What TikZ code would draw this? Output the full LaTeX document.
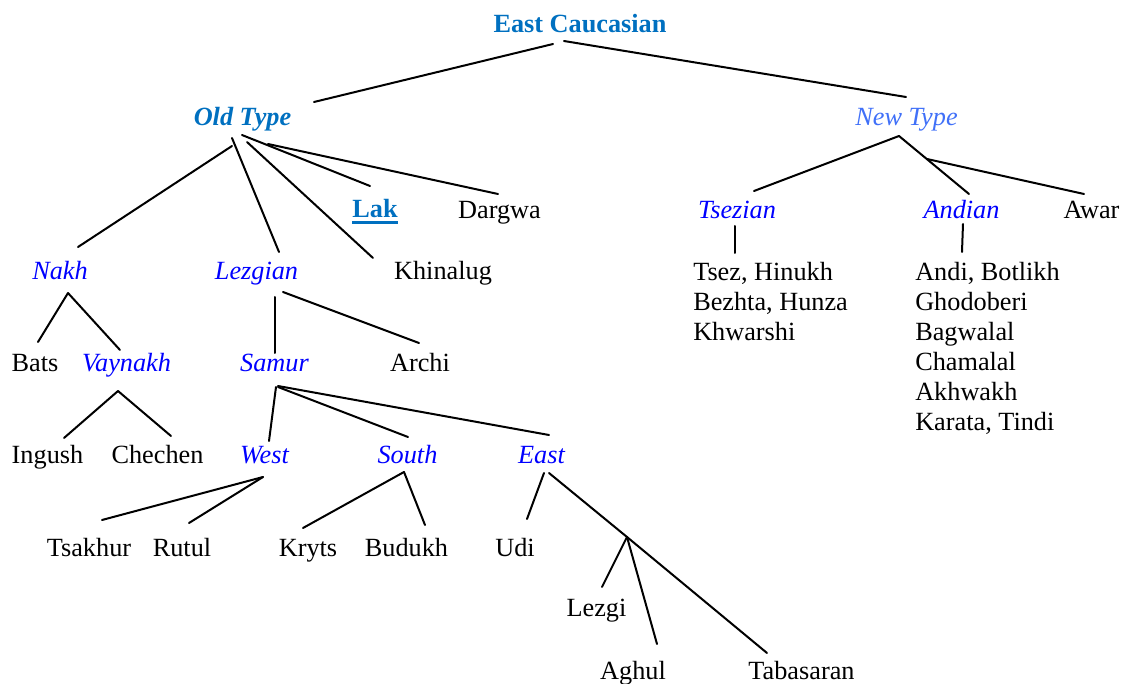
\documentclass[tikz,border=0pt]{standalone}
\usepackage{fontspec}
\setmainfont{Liberation Serif}
\definecolor{ecblue}{RGB}{0,112,192}
\definecolor{newblue}{RGB}{64,112,248}
\definecolor{grpblue}{RGB}{0,0,255}
\newcommand{\langfont}{\fontsize{19.7}{22.5}\selectfont}
\newcommand{\undl}[1]{\setbox0\hbox{#1}\rlap{\rule[-4.4pt]{\wd0}{1.8pt}}\box0}

\begin{document}
\begin{tikzpicture}[x=0.75pt, y=-0.75pt,
  lang/.style={inner sep=0pt, anchor=base, font=\langfont},
  branch/.style={lang, text=grpblue, font=\langfont\itshape},
  edge/.style={line width=1.5pt, line cap=round}]
\useasboundingbox (0,0) rectangle (1122,684);

% Top levels
\node[lang, text=ecblue, font=\langfont\bfseries] (ec) at (580,33) {East Caucasian};
\node[lang, text=ecblue, font=\langfont\bfseries\itshape] (old) at (242.5,126) {Old Type};
\node[lang, text=newblue, font=\langfont\itshape] (new) at (906.5,126) {New Type};

% Old type branches
\node[lang, text=ecblue, font=\langfont\bfseries] (lak) at (375,218) {\undl{Lak}};
\node[lang] (dargwa) at (499.5,219) {Dargwa};
\node[branch] (nakh) at (60,280) {Nakh};
\node[branch] (lezgian) at (256.5,280) {Lezgian};
\node[lang] (khinalug) at (443,280) {Khinalug};

\node[lang] (bats) at (35,372) {Bats};
\node[branch] (vaynakh) at (126.5,372) {Vaynakh};
\node[branch] (samur) at (274.5,372) {Samur};
\node[lang] (archi) at (420,372) {Archi};

\node[lang] (ingush) at (47.5,464) {Ingush};
\node[lang] (chechen) at (157.5,464) {Chechen};
\node[branch] (west) at (264.5,464) {West};
\node[branch] (south) at (407.5,464) {South};
\node[branch] (east) at (541.5,464) {East};

\node[lang] (tsakhur) at (89,556) {Tsakhur};
\node[lang] (rutul) at (182,556) {Rutul};
\node[lang] (kryts) at (308,556) {Kryts};
\node[lang] (budukh) at (406.5,556) {Budukh};
\node[lang] (udi) at (515,556) {Udi};

\coordinate (lezgic) at (627,537);
\node[lang] (lezgi) at (596.5,616) {Lezgi};
\node[lang] (aghul) at (633,679) {Aghul};
\node[lang] (tabasaran) at (801.5,679) {Tabasaran};

% New type branches
\node[branch] (tsezian) at (737,219) {Tsezian};
\node[branch] (andian) at (961.5,219) {Andian};
\node[lang] (awar) at (1091.5,219) {Awar};
\node[lang, anchor=north west, align=left] (tsezlist) at (693,262)
  {Tsez, Hinukh\\Bezhta, Hunza\\Khwarshi};
\node[lang, anchor=north west, align=left] (andilist) at (915,262)
  {Andi, Botlikh\\Ghodoberi\\Bagwalal\\Chamalal\\Akhwakh\\Karata, Tindi};

% Tree lines
\foreach \pa/\pdx/\pdy/\ch/\cdx/\cdy in {
  ec.base/-27/11/old.base/71.5/-24,
  ec.base/-16/8/new.base/-0.5/-29,
  old.base/-10.5/20/nakh.base/18/-33,
  old.base/-10.5/12/lezgian.base/22.5/-28,
  old.base/4.5/16/khinalug.base/-70/-22,
  old.base/-0.5/9/lak.base/-5/-32,
  old.base/25.5/18/dargwa.base/-1.5/-25,
  new.base/-7.5/10/tsezian.base/17/-28,
  new.base/-7.5/10/andian.base/7.5/-25,
  new.base/20.5/33/awar.base/-7.5/-25,
  tsezian.base/-2/7/tsezlist.north west/42/-9,
  andian.base/1.5/5/andilist.north west/47/-10,
  nakh.base/8/13/bats.base/3/-30,
  nakh.base/8/13/vaynakh.base/-6.5/-22,
  lezgian.base/18.5/17/samur.base/0.5/-19,
  lezgian.base/26.5/12/archi.base/-1/-29,
  vaynakh.base/-8.5/19/ingush.base/16.5/-26,
  vaynakh.base/-8.5/19/chechen.base/13.5/-28,
  samur.base/1.5/15/west.base/4.5/-23,
  samur.base/3.5/15/south.base/0.5/-27,
  samur.base/3.5/14/east.base/7.5/-29,
  west.base/-1.5/13/tsakhur.base/13/-36,
  west.base/-1.5/13/rutul.base/7/-33,
  south.base/-3.5/8/kryts.base/-5/-28,
  south.base/-3.5/8/budukh.base/18.5/-31,
  east.base/2.5/9/udi.base/12/-37,
  east.base/7.5/9/lezgic.center/0/0,
  lezgic.center/0/0/lezgi.base/5.5/-29,
  lezgic.center/0/0/aghul.base/24/-35,
  lezgic.center/0/0/tabasaran.base/-34.5/-26} {
  \draw[edge] ([shift={(\pdx,\pdy)}]\pa) -- ([shift={(\cdx,\cdy)}]\ch);
}

\end{tikzpicture}
\end{document}
